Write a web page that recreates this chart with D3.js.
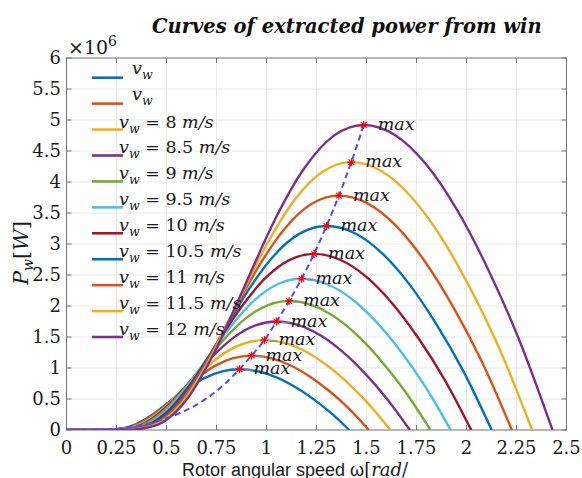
<!DOCTYPE html>
<html>
<head>
<meta charset="utf-8">
<script src="https://cdn.jsdelivr.net/npm/d3@7"></script>
<style>
html, body { margin: 0; padding: 0; background: #fff; }
svg { display: block; }
</style>
</head>
<body>
<svg id="chart" width="582" height="478"></svg>
<script>
// wind speeds of the curves (m/s), in drawing order
const windSpeeds = [7, 7.5, 8, 8.5, 9, 9.5, 10, 10.5, 11, 11.5, 12];
const legendValues = ['', '', '8', '8.5', '9', '9.5', '10', '10.5', '11', '11.5', '12'];

// rotor speed (rad/s) of the points read on each curve
const curveOmega = [
    [0, 0.173, 0.26, 0.346, 0.433, 0.519, 0.606, 0.692, 0.779, 0.865, 0.956, 1.047, 1.137, 1.228, 1.319, 1.414],
    [0, 0.185, 0.278, 0.37, 0.463, 0.555, 0.648, 0.74, 0.833, 0.925, 1.022, 1.119, 1.216, 1.314, 1.411, 1.512],
    [0, 0.198, 0.297, 0.396, 0.495, 0.594, 0.693, 0.792, 0.891, 0.99, 1.094, 1.198, 1.302, 1.406, 1.51, 1.619],
    [0, 0.21, 0.315, 0.42, 0.525, 0.63, 0.735, 0.84, 0.945, 1.05, 1.16, 1.271, 1.381, 1.491, 1.601, 1.717],
    [0, 0.223, 0.334, 0.445, 0.557, 0.668, 0.779, 0.89, 1.002, 1.113, 1.23, 1.347, 1.464, 1.58, 1.697, 1.82],
    [0, 0.235, 0.353, 0.47, 0.588, 0.705, 0.823, 0.94, 1.058, 1.175, 1.298, 1.422, 1.545, 1.669, 1.792, 1.921],
    [0, 0.248, 0.371, 0.495, 0.619, 0.743, 0.867, 0.99, 1.114, 1.238, 1.368, 1.498, 1.628, 1.758, 1.888, 2.024],
    [0, 0.26, 0.39, 0.52, 0.65, 0.78, 0.91, 1.04, 1.17, 1.30, 1.437, 1.573, 1.71, 1.846, 1.983, 2.126],
    [0, 0.272, 0.409, 0.545, 0.681, 0.817, 0.953, 1.09, 1.226, 1.362, 1.505, 1.648, 1.791, 1.934, 2.077, 2.227],
    [0, 0.285, 0.427, 0.57, 0.712, 0.854, 0.997, 1.139, 1.282, 1.424, 1.574, 1.723, 1.873, 2.022, 2.172, 2.328],
    [0, 0.297, 0.446, 0.594, 0.743, 0.892, 1.04, 1.189, 1.337, 1.486, 1.642, 1.798, 1.954, 2.11, 2.266, 2.43]
];

// extracted power (x 10^6 W) at those points
const curvePower = [
    [0, 0, 0.015, 0.092, 0.254, 0.465, 0.673, 0.841, 0.946, 0.98, 0.948, 0.854, 0.706, 0.514, 0.285, 0],
    [0, 0, 0.018, 0.113, 0.311, 0.569, 0.824, 1.03, 1.158, 1.20, 1.16, 1.045, 0.864, 0.629, 0.349, 0],
    [0, 0, 0.022, 0.136, 0.376, 0.687, 0.996, 1.244, 1.399, 1.45, 1.402, 1.263, 1.044, 0.76, 0.422, 0],
    [0, 0.001, 0.026, 0.165, 0.453, 0.83, 1.202, 1.502, 1.689, 1.75, 1.692, 1.524, 1.26, 0.917, 0.509, 0],
    [0, 0.001, 0.031, 0.196, 0.539, 0.986, 1.429, 1.785, 2.007, 2.08, 2.011, 1.812, 1.498, 1.09, 0.605, 0],
    [0, 0.001, 0.037, 0.229, 0.632, 1.157, 1.676, 2.094, 2.355, 2.44, 2.359, 2.125, 1.757, 1.279, 0.71, 0],
    [0, 0.001, 0.043, 0.267, 0.736, 1.346, 1.951, 2.437, 2.741, 2.84, 2.746, 2.474, 2.045, 1.488, 0.826, 0],
    [0, 0.001, 0.049, 0.309, 0.852, 1.559, 2.26, 2.823, 3.175, 3.29, 3.181, 2.866, 2.369, 1.724, 0.957, 0],
    [0, 0.001, 0.057, 0.355, 0.979, 1.792, 2.597, 3.243, 3.648, 3.78, 3.655, 3.292, 2.722, 1.981, 1.1, 0],
    [0, 0.001, 0.065, 0.406, 1.119, 2.048, 2.968, 3.707, 4.169, 4.32, 4.177, 3.763, 3.11, 2.264, 1.257, 0],
    [0, 0.001, 0.074, 0.462, 1.274, 2.332, 3.38, 4.221, 4.748, 4.92, 4.758, 4.285, 3.542, 2.578, 1.432, 0]
];

// maximum power points
const peakOmega = [0.865, 0.925, 0.99, 1.05, 1.113, 1.175, 1.238, 1.30, 1.362, 1.424, 1.486];
const peakPower = [0.98, 1.20, 1.45, 1.75, 2.08, 2.44, 2.84, 3.29, 3.78, 4.32, 4.92];

// dashed optimum curve through the maxima
const mpptOmega = [0, 0.2, 0.3, 0.4, 0.5, 0.6, 0.7, 0.8, 0.865, 0.925, 0.99, 1.05, 1.113, 1.175, 1.238, 1.30, 1.362, 1.424, 1.486];
const mpptPower = [0, 0.012, 0.04, 0.096, 0.19, 0.32, 0.51, 0.77, 0.98, 1.20, 1.45, 1.75, 2.08, 2.44, 2.84, 3.29, 3.78, 4.32, 4.92];

const xTicks = [0, 0.25, 0.5, 0.75, 1, 1.25, 1.5, 1.75, 2, 2.25, 2.5];
const yTicks = [0, 0.5, 1, 1.5, 2, 2.5, 3, 3.5, 4, 4.5, 5, 5.5, 6];

const palette = ['#0072BD', '#D95319', '#EDB120', '#7E2F8E', '#77AC30', '#4DBEEE', '#A2142F'];

const plot = {left: 66.5, right: 566.5, top: 58, bottom: 430};
const serif = '"DejaVu Serif", serif';
const axisColor = '#737373';

const svg = d3.select('#chart');

const x = d3.scaleLinear().domain([0, 2.5]).range([plot.left, plot.right]);
const y = d3.scaleLinear().domain([0, 6]).range([plot.bottom, plot.top]);

svg.append('defs').append('clipPath')
    .attr('id', 'plotClip')
    .append('rect')
        .attr('x', plot.left)
        .attr('y', plot.top)
        .attr('width', plot.right - plot.left)
        .attr('height', plot.bottom - plot.top);

svg.select('defs').append('clipPath')
    .attr('id', 'titleClip')
    .append('rect')
        .attr('x', 0).attr('y', 0)
        .attr('width', 541).attr('height', 50);

// Grid
svg.append('g').selectAll('line')
    .data(xTicks.slice(1, -1))
    .join('line')
        .attr('x1', d => x(d)).attr('x2', d => x(d))
        .attr('y1', plot.top).attr('y2', plot.bottom)
        .style('stroke', '#e8e8e8');

svg.append('g').selectAll('line')
    .data(yTicks.slice(1, -1))
    .join('line')
        .attr('x1', plot.left).attr('x2', plot.right)
        .attr('y1', d => y(d)).attr('y2', d => y(d))
        .style('stroke', '#e8e8e8');

// Box and inward ticks
const axes = svg.append('g');
axes.append('rect')
    .attr('x', plot.left).attr('y', plot.top)
    .attr('width', plot.right - plot.left).attr('height', plot.bottom - plot.top)
    .style('fill', 'none')
    .style('stroke', axisColor);

xTicks.forEach(t => {
    axes.append('line').attr('x1', x(t)).attr('x2', x(t)).attr('y1', plot.bottom).attr('y2', plot.bottom - 5).style('stroke', axisColor);
    axes.append('line').attr('x1', x(t)).attr('x2', x(t)).attr('y1', plot.top).attr('y2', plot.top + 5).style('stroke', axisColor);
});
yTicks.forEach(t => {
    axes.append('line').attr('x1', plot.left).attr('x2', plot.left + 5).attr('y1', y(t)).attr('y2', y(t)).style('stroke', axisColor);
    axes.append('line').attr('x1', plot.right).attr('x2', plot.right - 5).attr('y1', y(t)).attr('y2', y(t)).style('stroke', axisColor);
});

// Tick labels
svg.append('g').selectAll('text')
    .data(xTicks)
    .join('text')
        .attr('x', d => x(d))
        .attr('y', 454)
        .style('text-anchor', 'middle')
        .style('font-family', serif)
        .style('font-size', '18px')
        .style('fill', '#1a1a1a')
        .text(d => String(d));

svg.append('g').selectAll('text')
    .data(yTicks)
    .join('text')
        .attr('x', 61)
        .attr('y', d => y(d))
        .attr('dy', '0.36em')
        .style('text-anchor', 'end')
        .style('font-family', serif)
        .style('font-size', '18px')
        .style('fill', '#1a1a1a')
        .text(d => String(d));

// Exponent
const expo = svg.append('text')
    .attr('x', 68).attr('y', 54)
    .style('font-family', serif)
    .style('font-size', '19px')
    .style('fill', '#1a1a1a');
expo.append('tspan').text('\u00d710');
expo.append('tspan').attr('dy', -8).style('font-size', '14px').text('6');

// Curves
const line = d3.line()
    .x(d => x(d[0]))
    .y(d => y(d[1]))
    .curve(d3.curveMonotoneX);

const curves = svg.append('g').attr('clip-path', 'url(#plotClip)');

windSpeeds.forEach((v, i) => {
    const pts = curveOmega[i].map((w, j) => [w, curvePower[i][j]]);
    curves.append('path')
        .datum(pts)
        .attr('d', line)
        .style('fill', 'none')
        .style('stroke', palette[i % palette.length])
        .style('stroke-width', 2.4);
});

// Optimum (dashed) curve
curves.append('path')
    .datum(mpptOmega.map((w, j) => [w, mpptPower[j]]))
    .attr('d', line)
    .style('fill', 'none')
    .style('stroke', '#4d4dff')
    .style('stroke-width', 2)
    .style('stroke-dasharray', '6,4');

// Max markers and labels
const marks = svg.append('g');
peakOmega.forEach((w, i) => {
    const px = x(w), py = y(peakPower[i]);
    const r = 4;
    [[-r, 0, r, 0], [0, -r, 0, r], [-r * 0.7, -r * 0.7, r * 0.7, r * 0.7], [-r * 0.7, r * 0.7, r * 0.7, -r * 0.7]]
        .forEach(s => {
            marks.append('line')
                .attr('x1', px + s[0]).attr('y1', py + s[1])
                .attr('x2', px + s[2]).attr('y2', py + s[3])
                .style('stroke', '#ff0000')
                .style('stroke-width', 1.2);
        });
    if (i <= 5) {
        marks.append('line')
            .attr('x1', px + 5).attr('x2', px + 13)
            .attr('y1', py + 1).attr('y2', py + 1)
            .style('stroke', '#8c8c8c')
            .style('stroke-width', 1.5);
    }
    marks.append('text')
        .attr('x', px + 14)
        .attr('y', py + 5)
        .style('font-family', serif)
        .style('font-style', 'italic')
        .style('font-size', '17.5px')
        .style('fill', '#1a1a1a')
        .text('max');
});

// Legend
const legend = svg.append('g');
windSpeeds.forEach((v, i) => {
    const ly = 77.7 + i * 25.93;
    legend.append('line')
        .attr('x1', 92).attr('x2', 123)
        .attr('y1', ly).attr('y2', ly)
        .style('stroke', palette[i % palette.length])
        .style('stroke-width', 2.6);

    const value = legendValues[i];
    const t = legend.append('text')
        .attr('x', value ? 119 : 132)
        .attr('y', value ? ly - 2 : ly - 4)
        .style('font-family', serif)
        .style('font-size', '17.5px')
        .style('fill', '#1a1a1a');
    t.append('tspan').style('font-style', 'italic').text('v');
    t.append('tspan').style('font-style', 'italic').style('font-size', '12.5px').attr('dy', 5).text('w');
    if (value) {
        t.append('tspan').attr('dy', -5).text(' = ' + value + ' ');
        t.append('tspan').style('font-style', 'italic').text('m/s');
    }
});

// Title
svg.append('text')
    .attr('clip-path', 'url(#titleClip)')
    .attr('x', 152)
    .attr('y', 33)
    .style('font-family', serif)
    .style('font-weight', 'bold')
    .style('font-style', 'italic')
    .style('font-size', '19.5px')
    .style('fill', '#111')
    .text('Curves of extracted power from wind');

// X label
const xl = svg.append('text')
    .attr('x', 182)
    .attr('y', 476)
    .style('font-size', '18px')
    .style('fill', '#1a1a1a');
xl.append('tspan').style('font-family', '"Liberation Sans", sans-serif').text('Rotor angular speed \u03c9');
xl.append('tspan').style('font-family', serif).text('[');
xl.append('tspan').style('font-family', serif).style('font-style', 'italic').text('rad');
xl.append('tspan').style('font-family', serif).text('/');

// Y label
const yl = svg.append('text')
    .attr('transform', 'translate(28, 253) rotate(-90)')
    .style('text-anchor', 'middle')
    .style('font-family', serif)
    .style('font-size', '21px')
    .style('fill', '#1a1a1a');
yl.append('tspan').style('font-style', 'italic').text('P');
yl.append('tspan').style('font-style', 'italic').style('font-size', '14px').attr('dy', 5).text('w');
yl.append('tspan').attr('dy', -5).text('[');
yl.append('tspan').style('font-style', 'italic').text('W');
yl.append('tspan').text(']');
</script>
</body>
</html>
